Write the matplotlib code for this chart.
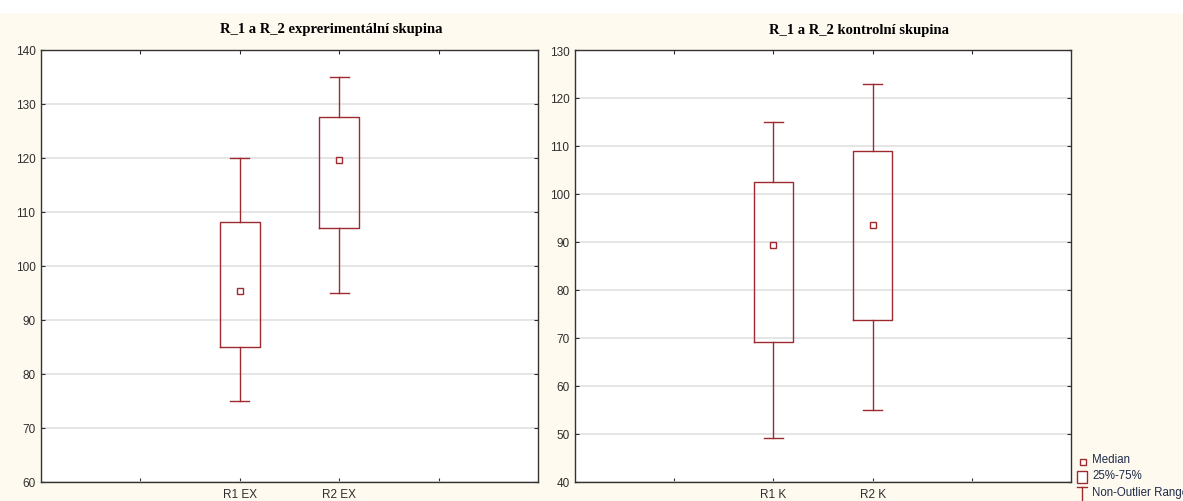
import numpy as np
import matplotlib
matplotlib.use("Agg")
from matplotlib import pyplot as plt
from matplotlib.lines import Line2D
from matplotlib.patches import Rectangle

# experimental group
ex_labels = ["R1 EX", "R2 EX"]
ex_med = [95.3, 119.5]
ex_q1 = [85, 107]
ex_q3 = [108, 127.5]
ex_lo = [75, 95]
ex_hi = [120, 135]

# control group
k_labels = ["R1 K", "R2 K"]
k_med = [89.4, 93.5]
k_q1 = [69, 73.6]
k_q3 = [102.4, 109]
k_lo = [49, 55]
k_hi = [115, 123]

legend_labels = ["Median", "25%-75%", "Non-Outlier Range"]

red = "#9E2A2E"
cream = "#FEFAEF"
W, H = 1183, 502

plt.rcParams['font.family'] = ['Liberation Sans', 'DejaVu Sans']

fig = plt.figure(figsize=(W / 100, H / 100), dpi=100, facecolor=cream)
fig.patches.append(Rectangle((0, 1 - 14 / H), 1, 14 / H, transform=fig.transFigure,
                             facecolor="white", edgecolor="none", zorder=0))


def make_stats(labels, med, q1, q3, lo, hi):
    stats = []
    for i in range(len(labels)):
        stats.append(dict(label=labels[i], med=med[i], mean=med[i], q1=q1[i], q3=q3[i],
                          whislo=lo[i], whishi=hi[i], fliers=[]))
    return stats


def panel(rect, stats, ylim, title, title_x):
    ax = fig.add_axes(rect)
    ax.set_facecolor("white")
    ax.bxp(stats, positions=[2, 3], widths=0.40, showmeans=True, showfliers=False,
           boxprops=dict(color=red, linewidth=1),
           whiskerprops=dict(color=red, linewidth=1),
           capprops=dict(color=red, linewidth=1),
           capwidths=0.19,
           medianprops=dict(linestyle="none"),
           meanprops=dict(marker="s", markersize=4.5, markerfacecolor="white",
                          markeredgecolor=red, markeredgewidth=1))
    ax.set_xlim(0, 5)
    ax.set_ylim(*ylim)
    ax.set_xticks([1, 2, 3, 4])
    ax.set_xticklabels(["", stats[0]["label"], stats[1]["label"], ""])
    ax.set_yticks(np.arange(ylim[0], ylim[1] + 1, 10))
    ax.yaxis.grid(True, color="#e0e0e0", linewidth=1.2)
    ax.set_axisbelow(True)
    ax.tick_params(direction="in", top=True, right=True, length=3, width=0.8,
                   labelsize=8.5, colors="#2e2e2e")
    ax.tick_params(axis="y", pad=4)
    ax.tick_params(axis="x", pad=4.5)
    for s in ax.spines.values():
        s.set_color("#333333")
        s.set_linewidth(1)
    ax.text(title_x, 1 + 21 / 432, title, transform=ax.transAxes, ha="center", va="center",
            family="Liberation Serif", fontweight="bold", fontsize=10.5)
    return ax


panel([41 / W, 19.5 / H, 497 / W, 432 / H],
      make_stats(ex_labels, ex_med, ex_q1, ex_q3, ex_lo, ex_hi),
      (60, 140), "R_1 a R_2 exprerimentální skupina", 0.584)
panel([575 / W, 19.5 / H, 496 / W, 431.5 / H],
      make_stats(k_labels, k_med, k_q1, k_q3, k_lo, k_hi),
      (40, 130), "R_1 a R_2 kontrolní skupina", 0.572)

# legend drawn in figure pixel space
lg = fig.add_axes([0, 0, 1, 1])
lg.set_xlim(0, W)
lg.set_ylim(H, 0)
lg.axis("off")
lg.plot([1083.5], [463], ls="none", marker="s", markersize=4, markerfacecolor="white",
        markeredgecolor=red, markeredgewidth=1)
lg.add_patch(Rectangle((1077, 472), 10, 12, facecolor="white", edgecolor=red, linewidth=1))
lg.add_line(Line2D([1077, 1087], [488, 488], color=red, linewidth=1))
lg.add_line(Line2D([1082, 1082], [488, 502], color=red, linewidth=1))
for i, lab in enumerate(legend_labels):
    lg.text(1092, 460 + 16.5 * i, lab, ha="left", va="center", fontsize=8.3,
            color="#1e2a4a", clip_on=False)

fig.savefig("out.png", dpi=100, facecolor=cream)
